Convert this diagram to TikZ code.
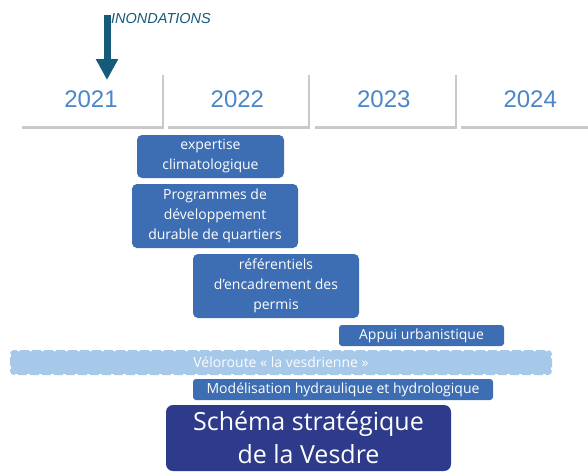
\documentclass[tikz,border=0pt]{standalone}
\usepackage{fontspec}
\setmainfont{Open Sans}
\newfontfamily\yearfont{Liberation Sans}
\usetikzlibrary{positioning,arrows.meta,shadows}

\definecolor{yearblue}{HTML}{4A86C8}
\definecolor{floodteal}{HTML}{165A7A}
\definecolor{taskblue}{HTML}{3D6DB3}
\definecolor{bandblue}{HTML}{A6C9EA}
\definecolor{navyblue}{HTML}{2E3A8A}

\begin{document}
\begin{tikzpicture}[x=1pt, y=-1pt,
  year/.style = {fill=white, minimum width=142pt, minimum height=54pt, inner sep=0pt,
    drop shadow={shadow xshift=2pt, shadow yshift=-2.5pt, opacity=0.3, fill=black!70},
    font=\yearfont\fontsize{24}{28}\selectfont, text=yearblue},
  task/.style = {fill=taskblue, rounded corners=5pt, text=white, align=center,
    inner sep=0pt, font=\fontsize{14}{20}\selectfont},
  band/.style = {fill=bandblue, draw=white, dash pattern=on 3pt off 9pt,
    line width=2pt, rounded corners=4pt, text=white!94!bandblue, inner sep=0pt,
    font=\fontsize{14}{18}\selectfont},
  flood/.style = {floodteal, line width=7pt, -{Triangle[width=21pt,length=21pt]}}]
\useasboundingbox (0,0) rectangle (588,471);

% timeline
\node[year] (y2021) at (91,99) {2021};
\node[year] (y2022) [right=4pt of y2021] {2022};
\node[year] (y2023) [right=4pt of y2022] {2023};
\node[year] (y2024) [right=4pt of y2023] {2024};

% flood marker
\coordinate (flood) at (107,15);
\coordinate (hit) at (107,80);
\draw[flood] (flood) -- (hit);
\node[anchor=west, inner sep=0pt, text=floodteal,
  font=\yearfont\itshape\fontsize{14.5}{16}\selectfont] (inond) at (111,19) {INONDATIONS};

% studies
\node[task, minimum width=147pt, minimum height=43pt] (clim) at (210.5,156.5) {expertise\\climatologique};
\node[task, minimum width=166pt, minimum height=64pt] (prog) at (215,216) {Programmes de\\développement\\durable de quartiers};
\node[task, minimum width=166pt, minimum height=64pt] (refer) at (276,286) {référentiels\\d’encadrement des\\permis};
\node[task, rounded corners=3pt, minimum width=165pt, minimum height=21pt] (appui) at (421.5,335.5) {Appui urbanistique};
\node[band, minimum width=542pt, minimum height=25pt] (velo) at (281,362.5) {Véloroute « la vesdrienne »};
\node[task, rounded corners=3pt, minimum width=300pt, minimum height=21pt] (model) at (343,389.5) {Modélisation hydraulique et hydrologique};
\node[task, fill=navyblue, rounded corners=7pt, minimum width=285pt, minimum height=66pt,
  font=\fontsize{25}{33}\selectfont] (schema) at (308.5,438) {Schéma stratégique\\de la Vesdre};
\end{tikzpicture}
\end{document}
